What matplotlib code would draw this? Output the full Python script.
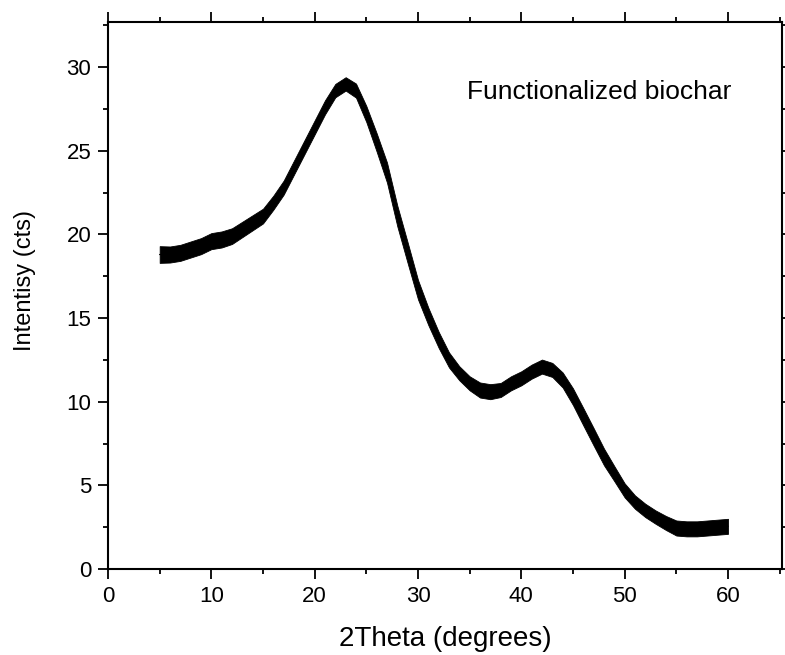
import matplotlib
matplotlib.use("Agg")
import matplotlib.pyplot as plt
import numpy as np
from matplotlib.ticker import MultipleLocator

plt.rcParams['font.family'] = ['Liberation Sans', 'DejaVu Sans']

# 2Theta positions (degrees) and the trace centre / noise band
two_theta = [5, 6, 7, 8, 9, 10, 11, 12, 13, 14, 15, 16, 17, 18, 19, 20,
             21, 22, 23, 24, 25, 26, 27, 28, 29, 30, 31, 32, 33, 34, 35,
             36, 37, 38, 39, 40, 41, 42, 43, 44, 45, 46, 47, 48, 49, 50,
             51, 52, 53, 54, 55, 56, 57, 58, 59, 60]
intensity = [18.8, 18.8, 18.9, 19.1, 19.3, 19.6, 19.7, 19.9, 20.3, 20.7, 21.1,
             21.9, 22.8, 24.0, 25.2, 26.4, 27.6, 28.6, 29.0, 28.6, 27.2, 25.5,
             23.7, 21.1, 18.9, 16.7, 15.1, 13.7, 12.5, 11.7, 11.1, 10.7, 10.6,
             10.7, 11.1, 11.4, 11.8, 12.1, 11.9, 11.3, 10.3, 9.1, 7.9, 6.7,
             5.7, 4.7, 4.0, 3.5, 3.1, 2.75, 2.45, 2.4, 2.4, 2.45, 2.5, 2.55]
noise = [0.5, 0.48, 0.48, 0.48, 0.48, 0.48, 0.48, 0.47, 0.46, 0.45, 0.44,
         0.42, 0.42, 0.42, 0.42, 0.42, 0.42, 0.4, 0.4, 0.42, 0.48, 0.55,
         0.6, 0.62, 0.62, 0.58, 0.52, 0.48, 0.45, 0.42, 0.42, 0.45, 0.45,
         0.42, 0.42, 0.42, 0.42, 0.42, 0.42, 0.45, 0.5, 0.52, 0.52, 0.5,
         0.45, 0.42, 0.4, 0.4, 0.4, 0.42, 0.45, 0.45, 0.45, 0.45, 0.45, 0.45]

label = "Functionalized biochar"

x = np.array(two_theta)
y = np.array(intensity)
band = np.array(noise)

fig = plt.figure(figsize=(7.85, 6.55), dpi=100)
ax = fig.add_axes([0.1376, 0.1313, 0.8582, 0.8351])

ax.fill_between(x, y - band, y + band, color="black", linewidth=0.6)
ax.plot(x, y, color="black", linewidth=0.8)

ax.set_xlim(0, 65.2)
ax.set_ylim(0, 32.7)
ax.xaxis.set_major_locator(MultipleLocator(10))
ax.xaxis.set_minor_locator(MultipleLocator(5))
ax.yaxis.set_major_locator(MultipleLocator(5))
ax.yaxis.set_minor_locator(MultipleLocator(2.5))

for s in ax.spines.values():
    s.set_linewidth(1.5)
ax.tick_params(which="both", direction="out", top=True, right=True,
               labeltop=False, labelright=False, width=1.3)
ax.tick_params(which="major", length=7, labelsize=16, pad=5)
ax.tick_params(which="minor", length=3.5)

ax.set_xlabel("2Theta (degrees)", fontsize=20, labelpad=14)
ax.set_ylabel("Intentisy (cts)", fontsize=17)
ax.yaxis.set_label_coords(-0.107, 0.528)

ax.text(0.925, 0.872, label, transform=ax.transAxes, ha="right", va="center",
        fontsize=19)

fig.savefig("out.png", dpi=100)
